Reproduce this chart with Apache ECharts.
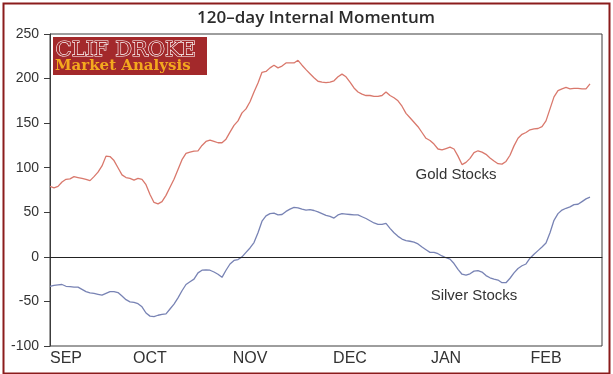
<!DOCTYPE html>
<html>
<head>
<meta charset="utf-8">
<script src="https://cdn.jsdelivr.net/npm/echarts@6/dist/echarts.min.js"></script>
<style>
html,body{margin:0;padding:0;background:#fff;}
#chart{width:613px;height:374px;}
</style>
</head>
<body>
<div id="chart"></div>
<script>
// ---- data ----
var monthLabels = ['SEP','OCT','NOV','DEC','JAN','FEB'];
var monthIndex = [4, 25, 50, 75, 99, 124];
var categoryCount = 139;
var yTicks = {min: -100, max: 250, interval: 50};

var goldStocks = [
  79,77.5,79,84,87,87.5,90,89,88,87,85.5,90,95,102,113,112.5,108,100,92,89,
  88,86,88,87,81,70,61,59.5,62,69,78,87,98,109,116,117.5,118.5,119,125,129.5,
  131,129.5,128,128,132,140,147.5,152.5,161.5,166,174,185,195,207,208,212,215,212,214,217.5,
  217.5,217.5,220.5,215,210,205.5,201,197,196,195.5,196,197.5,202,205,202,196,189.5,185,182.5,181,
  181,180,180,181,185,181,178.5,175,169,161,156,151,146,139.5,133,130.5,126.5,121,120,121.5,
  123,121,113,103.5,106,110.5,117,119,117.5,115,111,107.5,104.5,104,107,114,124.5,133,137.5,139.5,
  142.5,143.5,144,146,152.5,166,179.5,186.5,188.5,190,188.5,189,189,188.5,188.5,194
];
var silverStocks = [
  -33,-32,-31.5,-31,-33,-33.5,-34,-34,-36.5,-39,-40.5,-41,-42,-43,-41,-39,-39,-40,-44,-48,
  -50.5,-51,-52.5,-56,-63,-66.5,-67,-65.5,-64.5,-64,-58.5,-53,-46,-38,-31,-28,-25,-18,-15,-14.5,
  -15,-17,-19.5,-23,-15,-8,-4,-3,0,5,10,16,27,40,46,48.5,49,47,47.5,51,
  53.5,55.5,55,53.5,52.5,53,52,50.5,48.5,46.5,45.5,43.5,47,48.5,48,47.5,47,47,45,43,
  40.5,38,36.5,36.5,37.5,32,27,23,20,18.3,17.5,16.5,14.5,11,8,5,5,3.5,1,-1,
  -2.5,-7.5,-14,-19.5,-20.5,-19,-16,-15.5,-17,-21,-23.5,-25,-26,-29,-29,-24,-18,-13,-10,-8,
  -1.5,3,7,11,15.5,27,41,48.5,52.5,54.5,56,58.6,59,62,65,67
];
var seriesNames = ['Gold Stocks', 'Silver Stocks'];
var labelAnchors = [[101, 91.5], [106, -43.5]];

// ---- build categories ----
var categories = [];
for (var i = 0; i < categoryCount; i++) categories.push('');
monthIndex.forEach(function (idx, k) { categories[idx] = monthLabels[k]; });

var chart = echarts.init(document.getElementById('chart'), null, {renderer: 'canvas'});
var option = {
  backgroundColor: '#ffffff',
  animation: false,
  title: {
    text: '120\u2013day Internal Momentum',
    left: 311, top: 5, textAlign: 'center',
    textStyle: {fontFamily: 'Open Sans', fontWeight: 600, fontSize: 17, color: '#2b2b2b'}
  },
  grid: {
    left: 50, right: 11, top: 34, bottom: 28,
    show: true, borderColor: '#3c3c3c', borderWidth: 1, backgroundColor: 'transparent'
  },
  xAxis: {
    type: 'category', data: categories, boundaryGap: false,
    axisLine: {show: true, lineStyle: {color: '#3c3c3c', width: 1}},
    axisTick: {show: false},
    axisLabel: {
      interval: 0, margin: 5,
      fontFamily: 'Liberation Sans', fontSize: 16, color: '#333'
    },
    splitLine: {show: false}
  },
  yAxis: {
    type: 'value', min: yTicks.min, max: yTicks.max, interval: yTicks.interval,
    axisLine: {show: true, lineStyle: {color: '#3c3c3c', width: 1}},
    axisTick: {show: true, length: 6, lineStyle: {color: '#3c3c3c'}},
    axisLabel: {margin: 11, fontFamily: 'Liberation Sans', fontSize: 14, color: '#333'},
    splitLine: {show: false}
  },
  series: [
    {
      name: seriesNames[0], type: 'line', data: goldStocks, showSymbol: false, symbol: 'none',
      lineStyle: {color: '#d9786c', width: 1.3}, smooth: false,
      markPoint: {
        symbol: 'circle', symbolSize: 0, silent: true,
        label: {show: true, position: 'inside', offset: [2, 0], formatter: seriesNames[0],
          fontFamily: 'Liberation Sans', fontSize: 15, color: '#333'},
        data: [{coord: labelAnchors[0]}]
      }
    },
    {
      name: seriesNames[1], type: 'line', data: silverStocks, showSymbol: false, symbol: 'none',
      lineStyle: {color: '#7883b4', width: 1.3}, smooth: false,
      markLine: {
        silent: true, symbol: 'none', label: {show: false},
        lineStyle: {color: '#222', width: 1, type: 'solid'},
        data: [{yAxis: 0}]
      },
      markPoint: {
        symbol: 'circle', symbolSize: 0, silent: true,
        label: {show: true, position: 'inside', formatter: seriesNames[1],
          fontFamily: 'Liberation Sans', fontSize: 15, color: '#333'},
        data: [{coord: labelAnchors[1]}]
      }
    }
  ],
  graphic: [
    {type: 'rect', left: 1, top: 1, silent: true,
      shape: {width: 606, height: 370},
      style: {fill: 'none', stroke: '#8b1c1c', lineWidth: 2}},
    {type: 'rect', left: 53, top: 37, silent: true,
      shape: {width: 154, height: 38},
      style: {fill: '#a3292b'}},
    {type: 'text', left: 55, top: 39, silent: true,
      style: {text: 'CLIF DROKE', font: '21px "DejaVu Serif"', fill: '#a3292b',
        stroke: '#ffffff', lineWidth: 1.2}},
    {type: 'text', left: 55, top: 59, silent: true,
      style: {text: 'Market Analysis', font: 'bold 15px "DejaVu Serif"', fill: '#f4a91e'}}
  ]
};
chart.setOption(option);
</script>
</body>
</html>
